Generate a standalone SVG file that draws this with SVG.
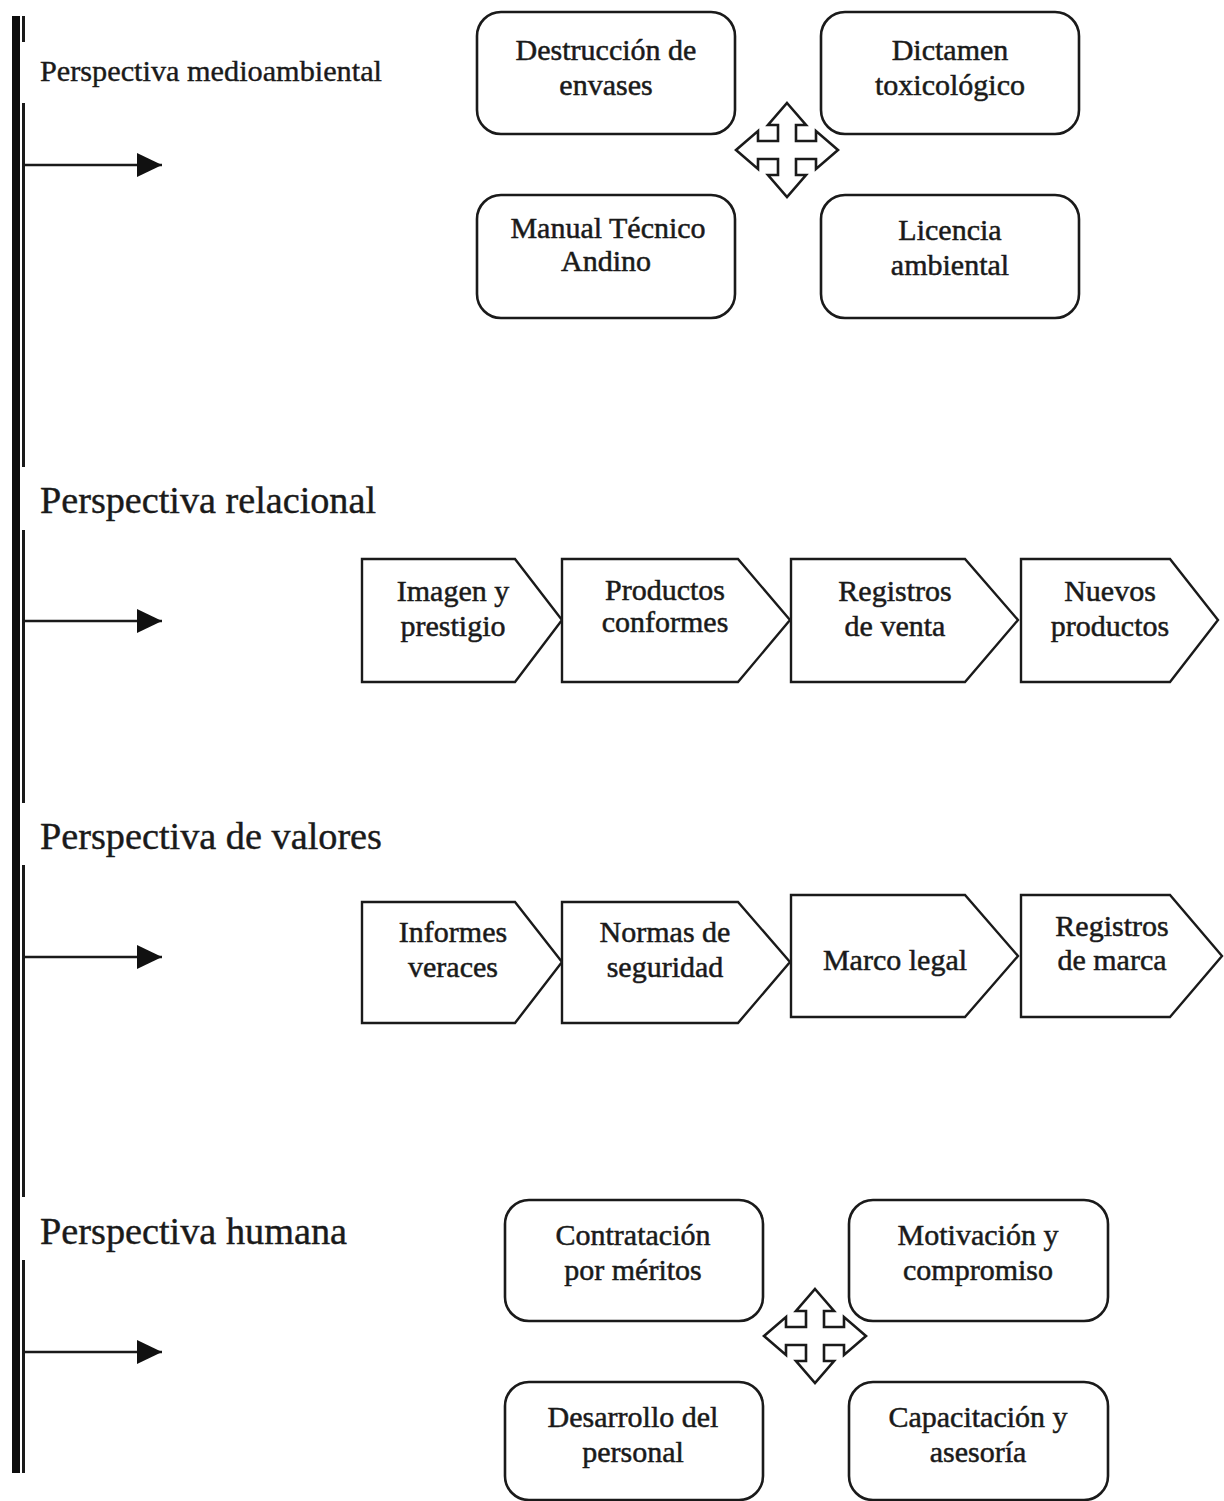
<svg xmlns="http://www.w3.org/2000/svg" width="1224" height="1501" viewBox="0 0 1224 1501">
  <style>
    .box { fill: #ffffff; stroke: #1a1a1a; stroke-width: 2.6; }
    .chev { fill: #ffffff; stroke: #1a1a1a; stroke-width: 2.4; stroke-linejoin: miter; }
    .cross { fill: #ffffff; stroke: #1a1a1a; stroke-width: 2.6; stroke-linejoin: miter; }
    .t { font-family: "Liberation Serif", "Times New Roman", serif; font-size: 30px; fill: #1a1a1a; stroke: #1a1a1a; stroke-width: 0.5; text-anchor: middle; }
    .lbl { font-family: "Liberation Serif", "Times New Roman", serif; fill: #1a1a1a; stroke: #1a1a1a; stroke-width: 0.4; }
    .link { stroke: #1a1a1a; stroke-width: 2.6; fill: none; }
  </style>
  <defs>
    <marker id="head" viewBox="0 0 25 24" refX="25" refY="12" markerWidth="25" markerHeight="24" markerUnits="userSpaceOnUse" orient="auto">
      <path d="M0,0 L25,12 L0,24 Z" fill="#111111"/>
    </marker>
    <!-- four-way arrow centred on the origin -->
    <path id="cross4" d="M0,-47 L19,-25 L9,-25 L9,-9 L29,-9 L29,-19 L51,0 L29,19 L29,9 L9,9 L9,25 L19,25 L0,47 L-19,25 L-9,25 L-9,9 L-29,9 L-29,19 L-51,0 L-29,-19 L-29,-9 L-9,-9 L-9,-25 L-19,-25 Z"/>
  </defs>

  <rect width="1224" height="1501" fill="#ffffff"/>

  <!-- vertical timeline bar -->
  <g id="timeline">
    <rect x="12" y="16" width="8" height="1457" fill="#0d0d0d"/>
    <rect x="22" y="16" width="3" height="26" fill="#1a1a1a"/>
    <rect x="22" y="103" width="3" height="364" fill="#1a1a1a"/>
    <rect x="22" y="530" width="3" height="273" fill="#1a1a1a"/>
    <rect x="22" y="865" width="3" height="332" fill="#1a1a1a"/>
    <rect x="22" y="1260" width="3" height="213" fill="#1a1a1a"/>
  </g>

  <!-- section titles -->
  <g id="titles">
    <text class="lbl" x="40" y="81" font-size="30" textLength="342" lengthAdjust="spacingAndGlyphs">Perspectiva medioambiental</text>
    <text class="lbl" x="40" y="513" font-size="37" textLength="336" lengthAdjust="spacingAndGlyphs">Perspectiva relacional</text>
    <text class="lbl" x="40" y="849" font-size="37" textLength="342" lengthAdjust="spacingAndGlyphs">Perspectiva de valores</text>
    <text class="lbl" x="40" y="1244" font-size="37" textLength="307" lengthAdjust="spacingAndGlyphs">Perspectiva humana</text>
  </g>

  <!-- connectors from the bar -->
  <g id="connectors">
    <line class="link" x1="22" y1="165" x2="162" y2="165" marker-end="url(#head)"/>
    <line class="link" x1="22" y1="621" x2="162" y2="621" marker-end="url(#head)"/>
    <line class="link" x1="22" y1="957" x2="162" y2="957" marker-end="url(#head)"/>
    <line class="link" x1="22" y1="1352" x2="162" y2="1352" marker-end="url(#head)"/>
  </g>

  <!-- environmental perspective -->
  <g id="destruccion">
    <rect class="box" x="477" y="12" width="258" height="122" rx="24"/>
    <text class="t" x="606" y="60">Destrucción de</text>
    <text class="t" x="606" y="95">envases</text>
  </g>
  <g id="dictamen">
    <rect class="box" x="821" y="12" width="258" height="122" rx="24"/>
    <text class="t" x="950" y="60">Dictamen</text>
    <text class="t" x="950" y="95">toxicológico</text>
  </g>
  <g id="manual">
    <rect class="box" x="477" y="195" width="258" height="123" rx="24"/>
    <text class="t" x="608" y="238" font-size="28">Manual Técnico</text>
    <text class="t" x="606" y="271" font-size="28">Andino</text>
  </g>
  <g id="licencia">
    <rect class="box" x="821" y="195" width="258" height="123" rx="24"/>
    <text class="t" x="950" y="240">Licencia</text>
    <text class="t" x="950" y="275">ambiental</text>
  </g>
  <g id="cross-top">
    <use href="#cross4" class="cross" x="787" y="150"/>
  </g>

  <!-- relational perspective -->
  <g id="imagen">
    <path class="chev" d="M362,559 H515 L562,620 L515,682 H362 Z"/>
    <text class="t" x="453" y="601">Imagen y</text>
    <text class="t" x="453" y="636">prestigio</text>
  </g>
  <g id="productos">
    <path class="chev" d="M562,559 H738 L790,620 L738,682 H562 Z"/>
    <text class="t" x="665" y="600">Productos</text>
    <text class="t" x="665" y="632">conformes</text>
  </g>
  <g id="registros-venta">
    <path class="chev" d="M791,559 H965 L1018,620 L965,682 H791 Z"/>
    <text class="t" x="895" y="601">Registros</text>
    <text class="t" x="895" y="636">de venta</text>
  </g>
  <g id="nuevos">
    <path class="chev" d="M1021,559 H1170 L1218,620 L1170,682 H1021 Z"/>
    <text class="t" x="1110" y="601">Nuevos</text>
    <text class="t" x="1110" y="636">productos</text>
  </g>

  <!-- values perspective -->
  <g id="informes">
    <path class="chev" d="M362,902 H515 L562,962 L515,1023 H362 Z"/>
    <text class="t" x="453" y="942">Informes</text>
    <text class="t" x="453" y="977">veraces</text>
  </g>
  <g id="normas">
    <path class="chev" d="M562,902 H738 L790,962 L738,1023 H562 Z"/>
    <text class="t" x="665" y="942">Normas de</text>
    <text class="t" x="665" y="977">seguridad</text>
  </g>
  <g id="marco">
    <path class="chev" d="M791,895 H965 L1018,956 L965,1017 H791 Z"/>
    <text class="t" x="895" y="970">Marco legal</text>
  </g>
  <g id="registros-marca">
    <path class="chev" d="M1021,895 H1170 L1222,956 L1170,1017 H1021 Z"/>
    <text class="t" x="1112" y="936">Registros</text>
    <text class="t" x="1112" y="970">de marca</text>
  </g>

  <!-- human perspective -->
  <g id="contratacion">
    <rect class="box" x="505" y="1200" width="258" height="121" rx="24"/>
    <text class="t" x="633" y="1245">Contratación</text>
    <text class="t" x="633" y="1280">por méritos</text>
  </g>
  <g id="motivacion">
    <rect class="box" x="849" y="1200" width="259" height="121" rx="24"/>
    <text class="t" x="978" y="1245">Motivación y</text>
    <text class="t" x="978" y="1280">compromiso</text>
  </g>
  <g id="desarrollo">
    <rect class="box" x="505" y="1382" width="258" height="118" rx="24"/>
    <text class="t" x="633" y="1427">Desarrollo del</text>
    <text class="t" x="633" y="1462">personal</text>
  </g>
  <g id="capacitacion">
    <rect class="box" x="849" y="1382" width="259" height="118" rx="24"/>
    <text class="t" x="978" y="1427">Capacitación y</text>
    <text class="t" x="978" y="1462">asesoría</text>
  </g>
  <g id="cross-bottom">
    <use href="#cross4" class="cross" x="815" y="1336"/>
  </g>
</svg>
